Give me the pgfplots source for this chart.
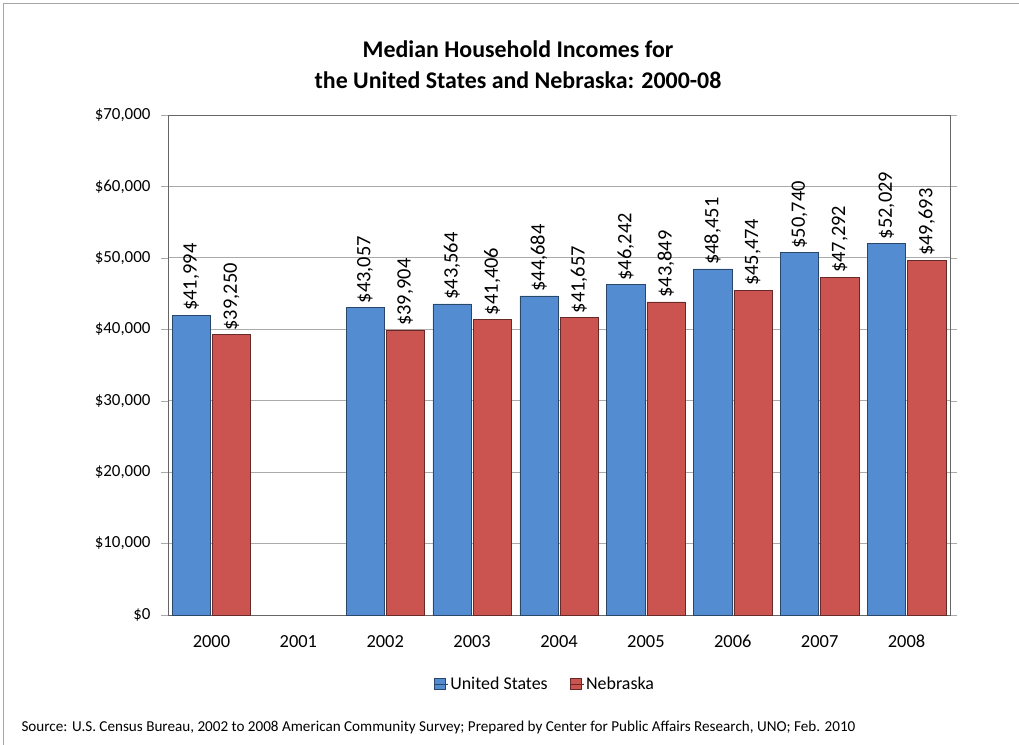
\documentclass[border=0pt]{standalone}
\usepackage{fontspec}
\setmainfont{Carlito}
\usepackage{pgfplots}
\pgfplotsset{compat=1.18}

\definecolor{usblue}{RGB}{84,140,210}
\definecolor{nered}{RGB}{204,84,80}
\definecolor{gridgray}{RGB}{170,170,170}

\begin{document}
\begin{tikzpicture}[x=1bp,y=1bp]
\useasboundingbox (0,0) rectangle (1019,745);
\draw[gray!70] (3,0) -- (3,742) -- (1019,742);

\node[font=\fontsize{24}{31}\selectfont\bfseries, align=center] at (518,680)
  {Median Household Incomes for\\the United States and Nebraska: 2000-08};

\begin{axis}[
    at={(168bp,130bp)}, anchor=south west,
    scale only axis,
    width=782bp, height=500bp,
    xmin=-0.5, xmax=8.5,
    ymin=0, ymax=70000,
    ybar, bar width=0.44,
    xtick={0,...,8},
    xticklabels={2000,2001,2002,2003,2004,2005,2006,2007,2008},
    major x tick style={draw=none},
    extra x ticks={-0.5,0.5,...,8.5},
    extra x tick labels={},
    extra x tick style={grid=none, major tick length=6bp, tick style={draw=gridgray}},
    ytick={0,10000,...,70000},
    scaled y ticks=false,
    yticklabel={\$\pgfmathprintnumber[fixed,1000 sep={,},assume math mode=true]{\tick}},
    ymajorgrids, grid style={gridgray, line width=0.8pt},
    tick align=outside,
    y tick style={draw=gridgray},
    major tick length=7bp,
    axis line style={gray!80!black},
    typeset ticklabels with strut,
    yticklabel style={font=\fontsize{17}{20}\selectfont, xshift=-7bp},
    xticklabel style={font=\fontsize{18.5}{22}\selectfont, yshift=-7bp},
    nodes near coords={\$\pgfmathprintnumber[fixed,1000 sep={,},assume math mode=true]{\pgfplotspointmeta}},
    every node near coord/.append style={rotate=90, anchor=west, font=\fontsize{20.5}{24}\selectfont, black, inner xsep=4bp},
    legend style={at={(0.482,-0.138)}, anchor=center, draw=none,
      legend columns=2, font=\fontsize{18}{22}\selectfont,
      /tikz/every even column/.append style={column sep=20bp}},
    legend image code/.code={\draw[#1] (0bp,-5bp) rectangle (11bp,6bp); \path (0bp,0bp) -- (14bp,0bp);},
    clip=false,
]
\addplot[fill=usblue, draw=usblue!50!black] coordinates {
  (0,41994) (2,43057) (3,43564) (4,44684) (5,46242) (6,48451) (7,50740) (8,52029)};
\addplot[fill=nered, draw=nered!50!black] coordinates {
  (0,39250) (2,39904) (3,41406) (4,41657) (5,43849) (6,45474) (7,47292) (8,49693)};
\legend{United States, Nebraska}
\end{axis}

\node[anchor=west, font=\fontsize{15.2}{18}\selectfont] at (18,18)
  {Source: U.S. Census Bureau, 2002 to 2008 American Community Survey; Prepared by Center for Public Affairs Research, UNO; Feb. 2010};
\end{tikzpicture}
\end{document}
